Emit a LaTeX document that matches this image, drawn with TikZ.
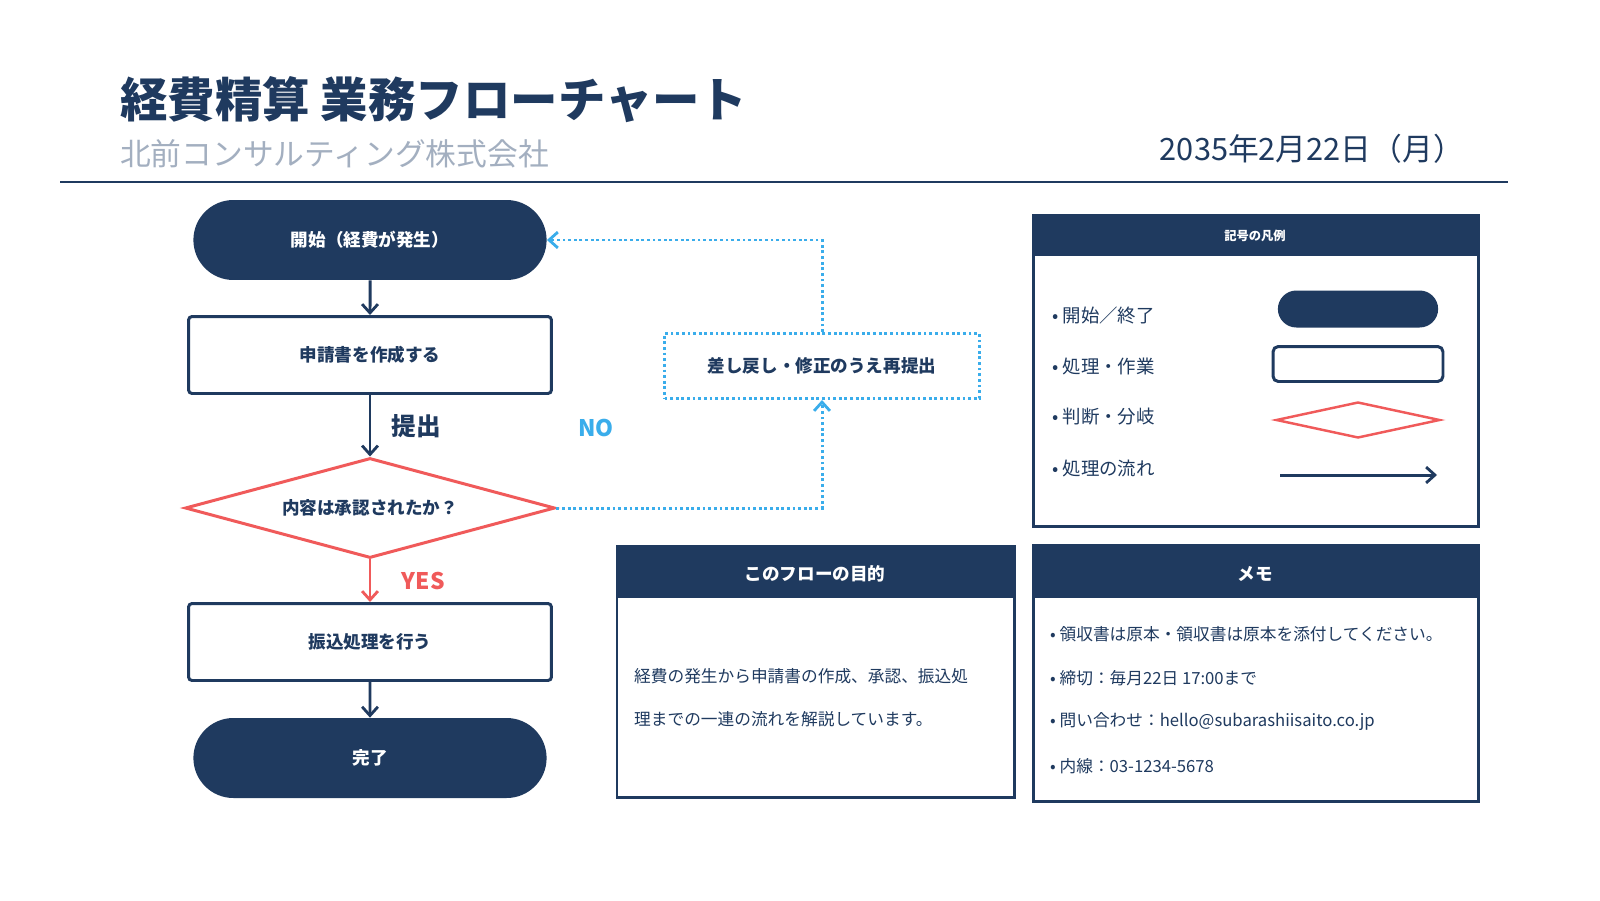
\documentclass[tikz,border=0pt]{standalone}
\usepackage{fontspec}
\setmainfont{Noto Sans CJK JP}
\usetikzlibrary{arrows.meta,shapes.misc,shapes.geometric}
\definecolor{navy}{HTML}{1F3A5F}
\definecolor{alert}{HTML}{F05A5A}
\definecolor{sky}{HTML}{3AADEB}
\definecolor{mist}{HTML}{A3AFC0}
\newcommand{\fs}[1]{\fontsize{#1}{#1}\selectfont}

\begin{document}
\begin{tikzpicture}[x=0.02cm,y=-0.02cm,>={Straight Barb[length=5pt,width=9pt,line width=1.6pt]},
  terminal/.style={rounded rectangle,fill=navy,text=white,font=\fs{10}\bfseries,minimum width=7.3cm,minimum height=1.6cm},
  process/.style={rectangle,rounded corners=2pt,draw=navy,line width=1.7pt,fill=white,text=navy,font=\fs{10}\bfseries,minimum width=7.26cm,minimum height=1.54cm},
  decision/.style={diamond,aspect=3.7,draw=alert,line width=1.7pt,fill=white,text=navy,font=\fs{10}\bfseries,minimum width=7.4cm,minimum height=2cm,inner sep=0pt},
  rework/.style={rectangle,draw=sky,line width=1.7pt,dash pattern=on 1.6pt off 1.6pt,text=navy,font=\fs{10}\bfseries,minimum width=6.3cm,minimum height=1.3cm},
  flow/.style={->,draw=navy,line width=1.7pt},
  back/.style={->,draw=sky,line width=1.7pt,dash pattern=on 1.6pt off 1.6pt},
  panel/.style={draw=navy,line width=1.7pt},
  heading/.style={text=white,font=\fs{10}\bfseries},
  item/.style={anchor=west,text=navy,font=\fs{10.5}}]

  \fill[white] (0,0) rectangle (1600,900);

  % header
  \node[anchor=base west,text=navy,font=\fs{27}\bfseries] (title) at (114,117) {経費精算 業務フローチャート};
  \node[anchor=base west,text=mist,font=\fs{17.5}] (company) at (114,165) {北前コンサルティング株式会社};
  \node[anchor=base east,text=navy,font=\fs{17.5}] (date) at (1470,160) {2035年2月22日（月）};
  \draw[navy,line width=1.2pt] (60,182) -- (1508,182);

  % flow
  \node[terminal] (start)   at (370,240) {開始（経費が発生）};
  \node[process]  (apply)   at (370,355) {申請書を作成する};
  \node[decision] (check)   at (370,508) {内容は承認されたか？};
  \node[process]  (pay)     at (370,642) {振込処理を行う};
  \node[terminal] (done)    at (370,758) {完了};
  \node[rework]   (resubmit) at (822,366) {差し戻し・修正のうえ再提出};

  \draw[flow] (start) -- (apply);
  \draw[flow] (apply) -- (check) node[midway,right=8pt,text=navy,font=\fs{14}\bfseries] {提出};
  \draw[flow,draw=alert] (check) -- (pay) node[midway,right=14pt,text=alert,font=\fs{13}\bfseries] {YES};
  \draw[flow] (pay) -- (done);
  \draw[back] (check.east) -- (822,508) -- (resubmit.south);
  \draw[back] (resubmit.north) -- (822,240) -- (start.east);
  \node[text=sky,font=\fs{13}\bfseries] (no) at (596,428) {NO};

  % legend
  \fill[navy] (1033,215) rectangle (1478,256);
  \draw[panel] (1033,215) rectangle (1478,526);
  \node[heading,font=\fs{7}\bfseries] (legendtitle) at (1255,236) {記号の凡例};
  \node[item] (l1) at (1046,315) {•\ 開始／終了};
  \node[item] (l2) at (1046,366) {•\ 処理・作業};
  \node[item] (l3) at (1046,417) {•\ 判断・分岐};
  \node[item] (l4) at (1046,468) {•\ 処理の流れ};
  \node[rounded rectangle,fill=navy,minimum width=3.44cm,minimum height=0.74cm] (k1) at (1358,309) {};
  \node[rectangle,rounded corners=3pt,draw=navy,line width=1.7pt,minimum width=3.4cm,minimum height=0.7cm] (k2) at (1358,364) {};
  \node[diamond,aspect=4.5,draw=alert,line width=1.4pt,minimum width=3.28cm,minimum height=0.72cm,inner sep=0pt] (k3) at (1358,420) {};
  \coordinate (k4a) at (1280,475);
  \coordinate (k4b) at (1437,475);
  \draw[flow] (k4a) -- (k4b);

  % purpose
  \fill[navy] (617,546) rectangle (1014,598);
  \draw[panel] (617,546) rectangle (1014,797);
  \node[heading] (purposetitle) at (815,574) {このフローの目的};
  \node[anchor=west,text=navy,font=\fs{9.5}] (p1) at (628,676) {経費の発生から申請書の作成、承認、振込処};
  \node[anchor=west,text=navy,font=\fs{9.5}] (p2) at (628,719) {理までの一連の流れを解説しています。};

  % memo
  \fill[navy] (1033,545) rectangle (1478,598);
  \draw[panel] (1033,545) rectangle (1478,801);
  \node[heading] (memotitle) at (1255,574) {メモ};
  \node[item,font=\fs{9.5}] (m1) at (1044,634) {•\ 領収書は原本・領収書は原本を添付してください。};
  \node[item,font=\fs{9.5}] (m2) at (1044,678) {•\ 締切：毎月22日 17:00まで};
  \node[item,font=\fs{9.5}] (m3) at (1044,722) {•\ 問い合わせ：hello@subarashiisaito.co.jp};
  \node[item,font=\fs{9.5}] (m4) at (1044,766) {•\ 内線：03-1234-5678};
\end{tikzpicture}
\end{document}
